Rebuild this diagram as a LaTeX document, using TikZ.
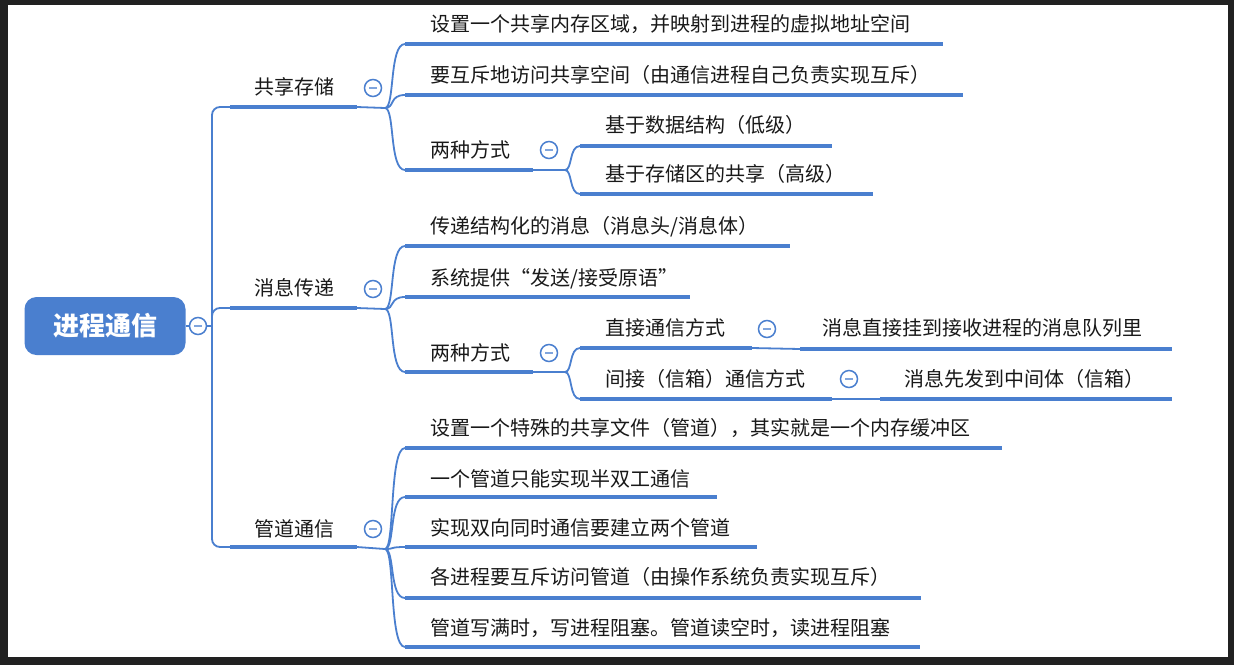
\documentclass[tikz,border=0pt]{standalone}
\usepackage{fontspec}
\newfontfamily\cjk{Noto Sans CJK SC}
\definecolor{mb}{HTML}{4A7FCF}
\tikzset{
 lbl/.style={font=\cjk\fontsize{20}{21}\selectfont, anchor=west, inner sep=0pt, text=black!90},
 uline/.style={draw=mb, line width=4pt},
 conn/.style={draw=mb, line width=1.8pt},
 tog/.style={circle, draw=mb, line width=1.5pt, fill=white, minimum size=17pt, inner sep=0pt,
   path picture={\draw[mb!70, line width=1.5pt] ([xshift=-4pt]path picture bounding box.center) -- ([xshift=4pt]path picture bounding box.center);}}
}
\newcommand\leaf[7]{% name, textx, texty, x1, x2, liney, text
 \node[lbl] (#1) at (#2,#3) {#7};
 \coordinate (#1a) at (#4,#6); \coordinate (#1b) at (#5,#6);
 \draw[uline] (#1a) -- (#1b);}
\newcommand\br[2]{\draw[conn] (#1) .. controls ($(#1)!0.5!(#2|-#1)$) and ($(#1|-#2)+(4,0)$) .. (#2);}
\usetikzlibrary{calc}
\begin{document}
\begin{tikzpicture}[x=1pt,y=-1pt]
\useasboundingbox (0,0) rectangle (1234,665);
\fill[black!87] (0,0) rectangle (1234,665);
\fill[white] (8,5) rectangle (1228,657);
% root
\node[fill=mb, rounded corners=12pt, minimum width=161pt, minimum height=58pt, text=white,
  font=\cjk\bfseries\fontsize{26}{27}\selectfont] (root) at (105,326) {进程通信};
\node[tog] (t0) at (198,326) {};
\draw[conn] (root.east) -- (t0);
% level 1
\leaf{a}{254}{87}{230}{357}{107}{共享存储}
\leaf{b}{254}{288}{230}{357}{308}{消息传递}
\leaf{c}{254}{529}{230}{357}{547}{管道通信}
\coordinate (sp) at (212,326);
\draw[conn] (t0) -- (sp);
\draw[conn, rounded corners=8pt] (aa) -- (212,107) -- (212,547) -- (ca);
\draw[conn, rounded corners=8pt] (212,320) -- (212,308) -- (ba);
\foreach \n/\y in {a/88,b/289,c/529}{
 \coordinate (\n e) at (385,\y+20);
 \draw[conn] (\n b) -- (\n e);
 \node[tog] (\n t) at (373,\y) {};}
% 共享存储
\leaf{a1}{430}{24}{405}{943}{44}{设置一个共享内存区域，并映射到进程的虚拟地址空间}
\leaf{a2}{430}{75}{405}{963}{95}{要互斥地访问共享空间（由通信进程自己负责实现互斥）}
\leaf{a3}{430}{150}{405}{533}{170}{两种方式}
\foreach \k in {a1,a2,a3}{\br{ae}{\k a}}
\node[tog] (a3t) at (549,150) {};
\coordinate (a3e) at (565,170); \draw[conn] (a3b) -- (a3e);
\leaf{a31}{605}{125}{580}{832}{146}{基于数据结构（低级）}
\leaf{a32}{605}{174}{580}{873}{194}{基于存储区的共享（高级）}
\foreach \k in {a31,a32}{\br{a3e}{\k a}}
% 消息传递
\leaf{b1}{430}{227}{405}{790}{246}{传递结构化的消息（消息头/消息体）}
\leaf{b2}{430}{279}{405}{690}{297}{系统提供“发送/接受原语”}
\leaf{b3}{430}{353}{405}{533}{372}{两种方式}
\foreach \k in {b1,b2,b3}{\br{be}{\k a}}
\node[tog] (b3t) at (549,353) {};
\coordinate (b3e) at (565,372); \draw[conn] (b3b) -- (b3e);
\leaf{b31}{605}{328}{580}{752}{348}{直接通信方式}
\leaf{b32}{605}{379}{580}{832}{399}{间接（信箱）通信方式}
\foreach \k in {b31,b32}{\br{b3e}{\k a}}
\node[tog] (b31t) at (767,329) {};
\node[tog] (b32t) at (849,379) {};
\leaf{b311}{822}{328}{800}{1172}{349}{消息直接挂到接收进程的消息队列里}
\leaf{b321}{904}{379}{880}{1172}{399}{消息先发到中间体（信箱）}
\draw[conn] (b31b) -- (b311a);
\draw[conn] (b32b) -- (b321a);
% 管道通信
\leaf{c1}{430}{428}{405}{1002}{448}{设置一个特殊的共享文件（管道），其实就是一个内存缓冲区}
\leaf{c2}{430}{479}{405}{717}{497}{一个管道只能实现半双工通信}
\leaf{c3}{430}{528}{405}{757}{547}{实现双向同时通信要建立两个管道}
\leaf{c4}{430}{577}{405}{921}{598}{各进程要互斥访问管道（由操作系统负责实现互斥）}
\leaf{c5}{430}{628}{405}{920}{647}{管道写满时，写进程阻塞。管道读空时，读进程阻塞}
\foreach \k in {c1,c2,c3,c4,c5}{\br{ce}{\k a}}
\end{tikzpicture}
\end{document}
